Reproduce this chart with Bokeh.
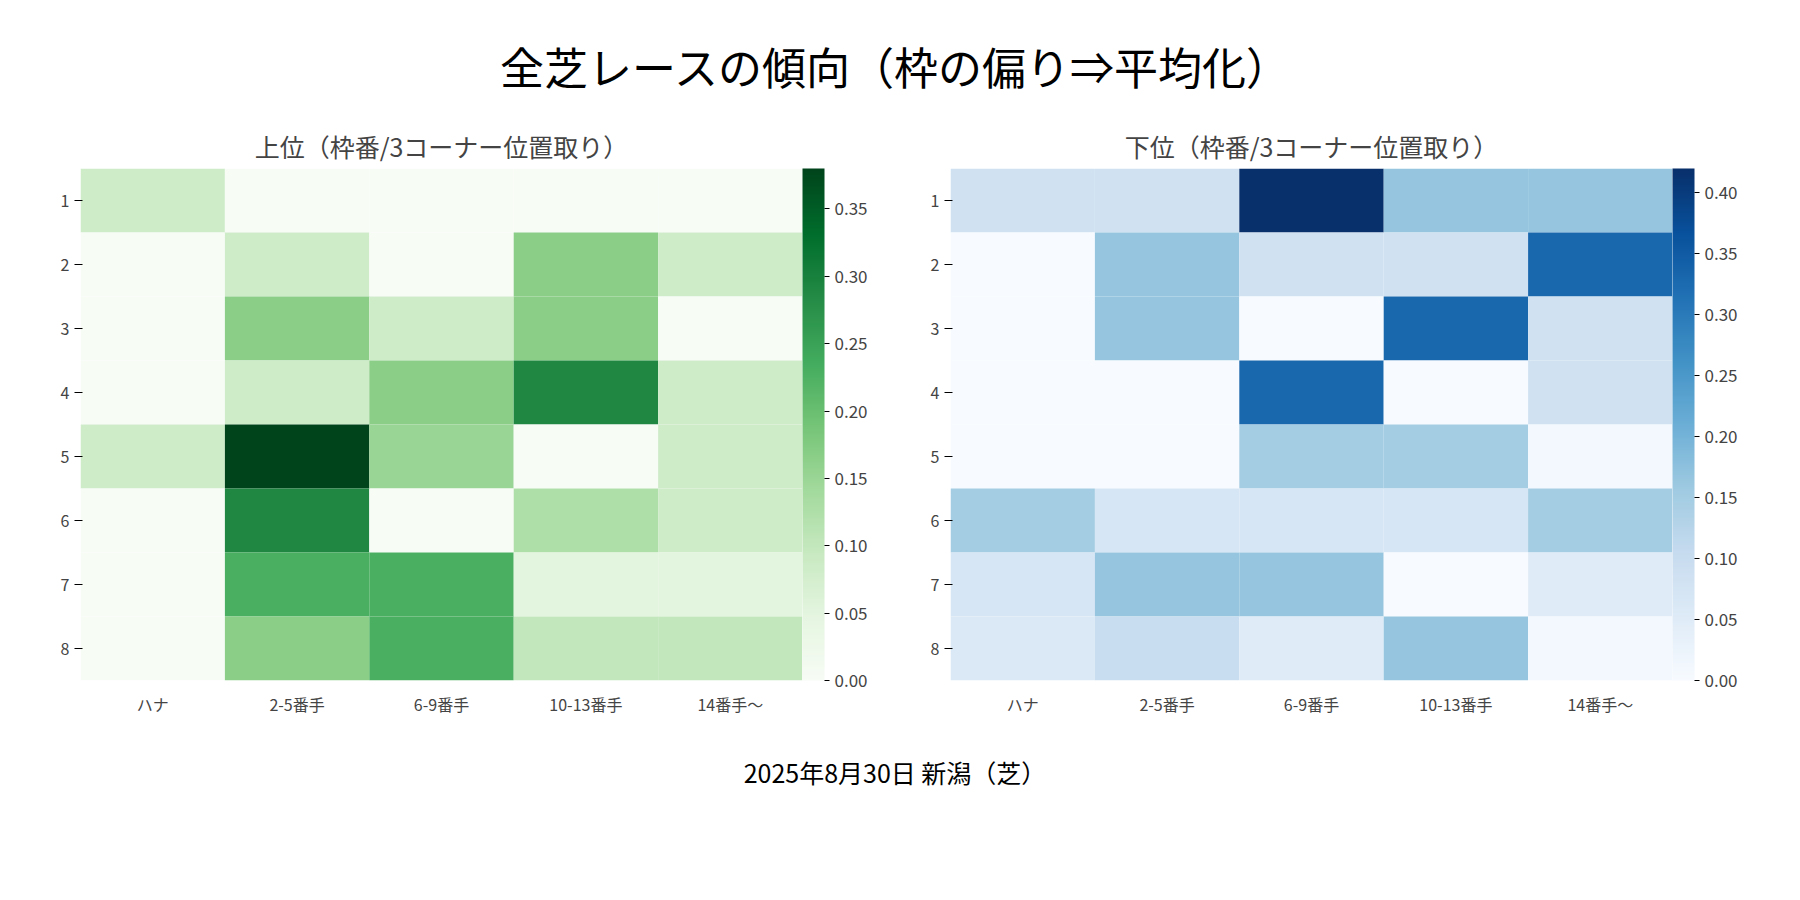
from bokeh.plotting import figure
from bokeh.models import LinearColorMapper, ColorBar, Div, FixedTicker, PrintfTickFormatter, ColumnDataSource
from bokeh.layouts import column, row
from bokeh.palettes import Greens256, Blues256
from bokeh.embed import file_html
from bokeh.resources import INLINE

cols = ["ハナ", "2-5番手", "6-9番手", "10-13番手", "14番手〜"]
rows = ["1", "2", "3", "4", "5", "6", "7", "8"]
top_vals = [
    [0.083, 0, 0, 0, 0],
    [0, 0.083, 0, 0.167, 0.083],
    [0, 0.167, 0.083, 0.167, 0],
    [0, 0.083, 0.167, 0.29, 0.083],
    [0.083, 0.38, 0.15, 0, 0.083],
    [0, 0.29, 0, 0.125, 0.083],
    [0, 0.23, 0.23, 0.05, 0.05],
    [0, 0.167, 0.23, 0.1, 0.1],
]
bot_vals = [
    [0.083, 0.083, 0.42, 0.167, 0.167],
    [0, 0.167, 0.083, 0.083, 0.33],
    [0, 0.167, 0, 0.33, 0.083],
    [0, 0, 0.33, 0, 0.083],
    [0, 0, 0.15, 0.15, 0.01],
    [0.15, 0.07, 0.07, 0.07, 0.15],
    [0.07, 0.167, 0.167, 0, 0.05],
    [0.06, 0.1, 0.05, 0.167, 0.01],
]
FONT = "Noto Sans CJK JP"

def heat(title, vals, pal, vmax, ticks):
    xs, ys, vs = [], [], []
    for r, rv in zip(rows, vals):
        for c, v in zip(cols, rv):
            xs.append(c); ys.append(r); vs.append(v)
    p = figure(x_range=cols, y_range=list(reversed(rows)), width=870, height=620,
               output_backend="svg", toolbar_location=None, title=title)
    mapper = LinearColorMapper(palette=list(reversed(pal)), low=0, high=vmax)
    src = ColumnDataSource(dict(x=xs, y=ys, v=vs))
    p.rect(x="x", y="y", width=1, height=1, source=src,
           fill_color={"field": "v", "transform": mapper}, line_color=None)
    p.title.text_font = FONT
    p.title.text_font_size = "25px"
    p.title.text_font_style = "normal"
    p.title.align = "center"
    p.outline_line_color = None
    p.grid.visible = False
    for ax in (p.xaxis, p.yaxis):
        ax.axis_line_color = None
        ax.major_label_text_font = FONT
        ax.major_label_text_font_size = "16px"
        ax.minor_tick_line_color = None
    p.xaxis.major_tick_line_color = None
    p.yaxis.major_tick_out = 6
    p.min_border_left = 80
    p.min_border_bottom = 60
    cb = ColorBar(color_mapper=mapper, width=22, ticker=FixedTicker(ticks=ticks),
                  formatter=PrintfTickFormatter(format="%.2f"),
                  major_label_text_font=FONT, major_label_text_font_size="17px",
                  padding=0, margin=40, bar_line_color=None, major_tick_out=5,
                  major_tick_in=0, major_tick_line_color="black")
    p.add_layout(cb, "right")
    return p

p1 = heat("上位（枠番/3コーナー位置取り）", top_vals, Greens256, 0.38,
          [0, 0.05, 0.1, 0.15, 0.2, 0.25, 0.3, 0.35])
p2 = heat("下位（枠番/3コーナー位置取り）", bot_vals, Blues256, 0.42,
          [0, 0.05, 0.1, 0.15, 0.2, 0.25, 0.3, 0.35, 0.4])

title = Div(text="全芝レースの傾向（枠の偏り⇒平均化）", width=1780, height=110,
            styles={"font-family": FONT, "font-size": "44px", "text-align": "center",
                    "width": "1780px", "padding-top": "30px"})
foot = Div(text="2025年8月30日 新潟（芝）", width=1780, height=60,
           styles={"font-family": FONT, "font-size": "25px", "text-align": "center",
                   "width": "1780px", "padding-top": "10px"})
layout = column(title, row(p1, p2), foot)
open("out.html", "w").write(file_html(layout, INLINE))
